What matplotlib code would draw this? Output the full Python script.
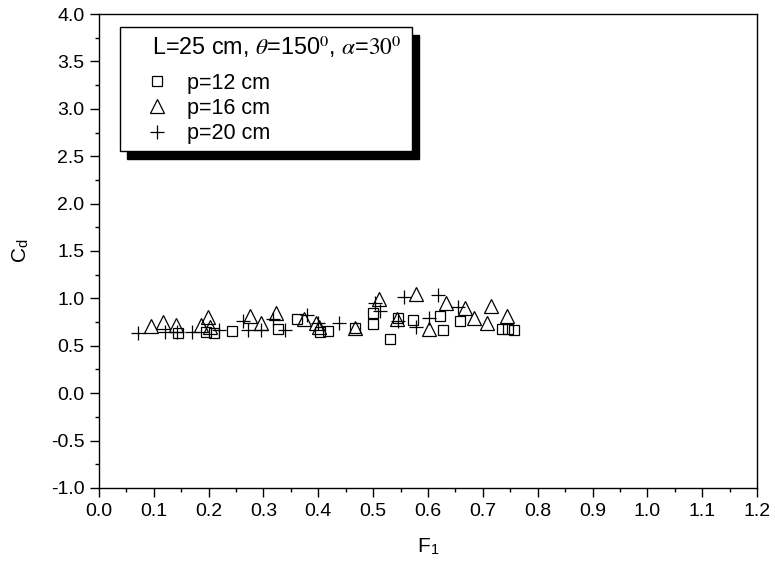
import matplotlib
matplotlib.use("Agg")
import matplotlib.pyplot as plt
from matplotlib.ticker import MultipleLocator, FormatStrFormatter
from matplotlib.lines import Line2D
from matplotlib.patches import Rectangle

plt.rcParams['font.family'] = ['Liberation Sans', 'DejaVu Sans']
plt.rcParams['mathtext.fontset'] = 'stix'

# p = 12 cm (squares)
f1_p12 = [0.145, 0.196, 0.210, 0.242, 0.327, 0.361, 0.403, 0.418, 0.467, 0.499,
          0.500, 0.531, 0.545, 0.573, 0.621, 0.628, 0.658, 0.735, 0.745, 0.756]
cd_p12 = [0.63, 0.65, 0.63, 0.66, 0.68, 0.78, 0.65, 0.66, 0.69, 0.73,
          0.85, 0.57, 0.79, 0.77, 0.81, 0.67, 0.76, 0.68, 0.68, 0.67]

# p = 16 cm (triangles)
f1_p16 = [0.095, 0.116, 0.140, 0.186, 0.199, 0.202, 0.275, 0.295, 0.323, 0.373,
          0.396, 0.402, 0.467, 0.511, 0.543, 0.579, 0.601, 0.633, 0.667, 0.683,
          0.707, 0.715, 0.744]
cd_p16 = [0.71, 0.75, 0.72, 0.72, 0.80, 0.70, 0.81, 0.74, 0.85, 0.78,
          0.74, 0.70, 0.69, 0.99, 0.78, 1.05, 0.68, 0.95, 0.90, 0.79,
          0.74, 0.92, 0.81]

# p = 20 cm (plus)
f1_p20 = [0.072, 0.120, 0.142, 0.169, 0.218, 0.262, 0.271, 0.295, 0.318, 0.339,
          0.379, 0.400, 0.437, 0.503, 0.512, 0.545, 0.557, 0.578, 0.601, 0.618,
          0.654]
cd_p20 = [0.63, 0.65, 0.65, 0.65, 0.67, 0.76, 0.67, 0.67, 0.78, 0.67,
          0.82, 0.74, 0.74, 0.95, 0.87, 0.76, 1.01, 0.70, 0.79, 1.04,
          0.91]

labels = ['p=12 cm', 'p=16 cm', 'p=20 cm']
legend_title = r'L=25 cm, $\theta$=150$^0$, $\alpha$=$\mathrm{30}^0$'

fig = plt.figure(figsize=(7.75, 5.72), dpi=100)
ax = fig.add_axes([0.1277, 0.1469, 0.8491, 0.8286])

ax.plot(f1_p12, cd_p12, linestyle='none', marker='s', markersize=7.5,
        markerfacecolor='none', markeredgecolor='black', markeredgewidth=0.9)
ax.plot(f1_p16, cd_p16, linestyle='none', marker='^', markersize=10.5,
        markerfacecolor='none', markeredgecolor='black', markeredgewidth=0.9)
ax.plot(f1_p20, cd_p20, linestyle='none', marker='+', markersize=10,
        color='black', markeredgewidth=0.9)

ax.set_xlim(0.0, 1.2)
ax.set_ylim(-1.0, 4.0)
ax.xaxis.set_major_locator(MultipleLocator(0.1))
ax.xaxis.set_minor_locator(MultipleLocator(0.05))
ax.yaxis.set_major_locator(MultipleLocator(0.5))
ax.yaxis.set_minor_locator(MultipleLocator(0.25))
ax.xaxis.set_major_formatter(FormatStrFormatter('%.1f'))
ax.yaxis.set_major_formatter(FormatStrFormatter('%.1f'))
ax.tick_params(which='major', direction='out', length=6.5, width=1.0,
               labelsize=14, top=False, right=False, pad=4)
ax.tick_params(which='minor', direction='out', length=3, width=1.0,
               top=False, right=False)
for s in ax.spines.values():
    s.set_linewidth(1.0)

ax.set_xlabel(r'F$_\mathregular{1}$', fontsize=15, labelpad=12)
ax.set_ylabel(r'C$_\mathregular{d}$', fontsize=15, labelpad=14)

# legend frame with solid black drop shadow
ax.add_patch(Rectangle((0.0425, 0.694), 0.4438, 0.2616, transform=ax.transAxes,
                       facecolor='black', edgecolor='black', zorder=8, clip_on=False))
ax.add_patch(Rectangle((0.0319, 0.711), 0.4438, 0.2616, transform=ax.transAxes,
                       facecolor='white', edgecolor='black', linewidth=1.0,
                       zorder=9, clip_on=False))
ax.text(0.0805, 0.930, legend_title, transform=ax.transAxes, fontsize=16.8,
        ha='left', va='center', zorder=10)

handles = [
    Line2D([], [], linestyle='none', marker='s', markersize=7.5,
           markerfacecolor='none', markeredgecolor='black', markeredgewidth=0.9),
    Line2D([], [], linestyle='none', marker='^', markersize=10,
           markerfacecolor='none', markeredgecolor='black', markeredgewidth=0.9),
    Line2D([], [], linestyle='none', marker='+', markersize=10,
           color='black', markeredgewidth=0.9),
]
leg = ax.legend(handles, labels, loc='upper left',
                bbox_to_anchor=(0.078, 0.8766), borderaxespad=0, borderpad=0,
                fontsize=15.5, frameon=False, handlelength=0.6,
                handletextpad=1.1, labelspacing=0.2)
leg.set_zorder(10)

fig.savefig('out.png', dpi=100)
